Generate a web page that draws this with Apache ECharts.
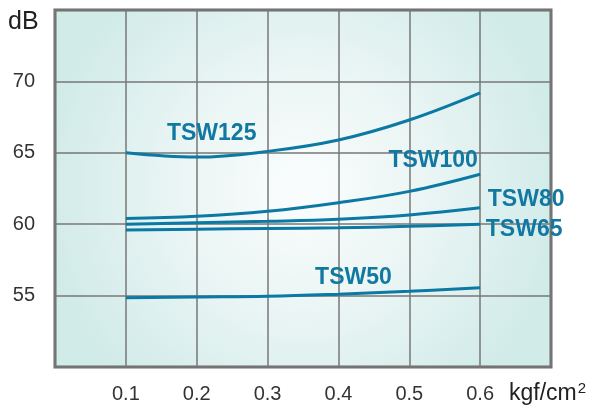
<!DOCTYPE html>
<html>
<head>
<meta charset="utf-8">
<script src="https://cdn.jsdelivr.net/npm/echarts@6/dist/echarts.min.js"></script>
<style>
html,body{margin:0;padding:0;background:#fff;}
#c{width:593px;height:408px;}
</style>
</head>
<body>
<div id="c"></div>
<script>
const xs = [0.1, 0.2, 0.3, 0.4, 0.5, 0.6];
const seriesNames = ['TSW125', 'TSW100', 'TSW80', 'TSW65', 'TSW50'];
const tsw125 = [65.0, 64.7, 65.1, 65.9, 67.3, 69.2];
const tsw100 = [60.4, 60.55, 60.9, 61.5, 62.3, 63.5];
const tsw80 = [60.0, 60.1, 60.2, 60.35, 60.65, 61.15];
const tsw65 = [59.6, 59.65, 59.7, 59.75, 59.85, 60.0];
const tsw50 = [54.85, 54.9, 54.95, 55.1, 55.3, 55.55];
const xTickLabels = ['0.1', '0.2', '0.3', '0.4', '0.5', '0.6'];
const yTickLabels = ['55', '60', '65', '70'];

const lineColor = '#0b79a4';
const labelColor = '#1178a2';

// label placement: [data index, offsetX, offsetY]
const labelPlace = {
  TSW125: [1, 15, -23],
  TSW100: [5, -47, -14],
  TSW80: [5, 46, -8],
  TSW65: [5, 44, 5],
  TSW50: [3, 15, -17]
};

const values = [tsw125, tsw100, tsw80, tsw65, tsw50];

const chart = echarts.init(document.getElementById('c'));

const series = seriesNames.map((name, si) => {
  const lp = labelPlace[name];
  const data = xs.map((x, i) => {
    const item = { value: [x, values[si][i]] };
    if (i === lp[0]) {
      item.label = {
        show: true,
        formatter: name,
        position: 'inside',
        align: 'center',
        verticalAlign: 'middle',
        offset: [lp[1], lp[2]],
        color: labelColor,
        fontFamily: 'Liberation Sans, Arial, sans-serif',
        fontWeight: 'bold',
        fontSize: 23
      };
    }
    return item;
  });
  return {
    name: name,
    type: 'line',
    smooth: 0.4,
    symbol: 'circle',
    symbolSize: 0,
    showSymbol: true,
    silent: true,
    lineStyle: { color: lineColor, width: 3 },
    itemStyle: { color: lineColor },
    label: { show: false },
    data: data,
    z: 5
  };
});

chart.setOption({
  animation: false,
  grid: {
    left: 55, right: 42, top: 10, bottom: 41,
    show: true,
    borderColor: '#6b6b6b',
    borderWidth: 3,
    backgroundColor: {
      type: 'radial', x: 0.5, y: 0.5, r: 0.72,
      colorStops: [
        { offset: 0, color: '#fbfdfd' },
        { offset: 0.5, color: '#e9f5f4' },
        { offset: 1, color: '#d1ebe9' }
      ]
    }
  },
  xAxis: {
    type: 'value',
    min: 0, max: 0.7, interval: 0.1,
    axisLine: { show: false },
    axisTick: { show: false },
    splitLine: { show: true, lineStyle: { color: '#777', width: 1.5 } },
    axisLabel: {
      margin: 17,
      color: '#333',
      fontSize: 20,
      fontFamily: 'Liberation Sans, Arial, sans-serif',
      formatter: function (v) {
        const s = v.toFixed(1);
        return xTickLabels.indexOf(s) >= 0 ? s : '';
      }
    }
  },
  yAxis: {
    type: 'value',
    min: 50, max: 75, interval: 5,
    axisLine: { show: false },
    axisTick: { show: false },
    splitLine: { show: true, lineStyle: { color: '#777', width: 1.5 } },
    axisLabel: {
      margin: 20,
      color: '#333',
      fontSize: 20,
      fontFamily: 'Liberation Sans, Arial, sans-serif',
      formatter: function (v) {
        const s = String(v);
        return yTickLabels.indexOf(s) >= 0 ? s : '';
      }
    }
  },
  graphic: [
    {
      type: 'text', left: 8, top: 10,
      style: { text: 'dB', fill: '#222', font: '25px "Liberation Sans", Arial, sans-serif' }
    },
    {
      type: 'text', left: 509, top: 381,
      style: {
        text: 'kgf/cm{sup|2}',
        fill: '#222',
        font: '23px "Liberation Sans", Arial, sans-serif',
        rich: {
          sup: { fontSize: 15, verticalAlign: 'top', padding: [0, 0, 10, 1], fill: '#222', fontFamily: 'Liberation Sans, Arial, sans-serif' }
        }
      }
    }
  ],
  series: series
});
</script>
</body>
</html>
